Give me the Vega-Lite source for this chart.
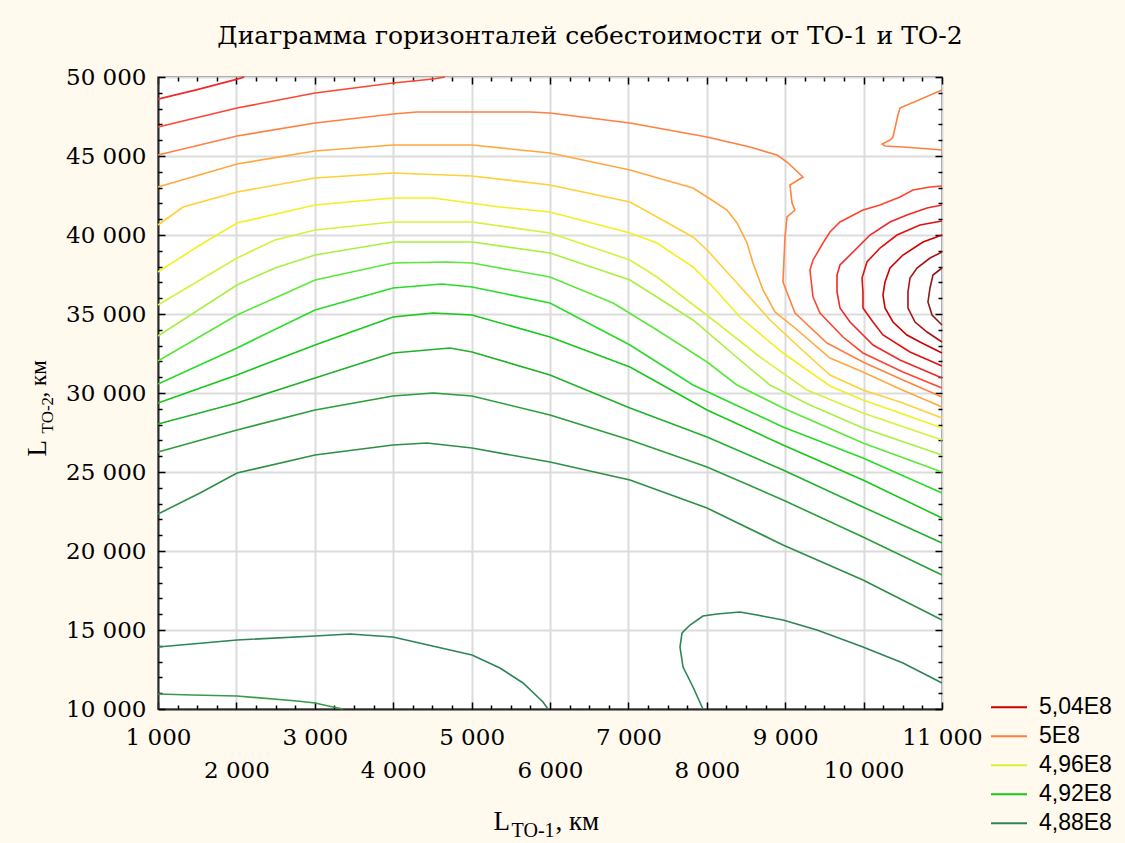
{
  "$schema": "https://vega.github.io/schema/vega-lite/v6.json",
  "width": 784,
  "height": 632,
  "autosize": {"type": "none"},
  "padding": {"left": 158, "top": 77, "right": 183, "bottom": 134},
  "background": "#FFF9EE",
  "title": {
    "text": "Диаграмма горизонталей себестоимости от ТО-1 и ТО-2",
    "font": "DejaVu Serif",
    "fontSize": 25,
    "fontWeight": "normal",
    "color": "#000000",
    "anchor": "middle",
    "dx": 40,
    "dy": 34,
    "baseline": "alphabetic",
    "offset": 31
  },
  "config": {
    "view": {"fill": "#FFFFFF", "stroke": "#555555", "strokeWidth": 1.5}
  },
  "data": {
    "values": [
      {"l":502,"s":1,"i":0,"x":1000,"y":48600},{"l":502,"s":1,"i":1,"x":1500,"y":49200},{"l":502,"s":1,"i":2,"x":2000,"y":49850},{"l":502,"s":1,"i":3,"x":2100,"y":50000},
      {"l":501,"s":2,"i":0,"x":1000,"y":46835},{"l":501,"s":2,"i":1,"x":2008,"y":48038},{"l":501,"s":2,"i":2,"x":3003,"y":48987},{"l":501,"s":2,"i":3,"x":3997,"y":49620},{"l":501,"s":2,"i":4,"x":4508,"y":49873},{"l":501,"s":2,"i":5,"x":4660,"y":50000},
      {"l":500,"s":3,"i":0,"x":1000,"y":45063},{"l":500,"s":3,"i":1,"x":2008,"y":46266},{"l":500,"s":3,"i":2,"x":3003,"y":47089},{"l":500,"s":3,"i":3,"x":3997,"y":47658},{"l":500,"s":3,"i":4,"x":4304,"y":47785},{"l":500,"s":3,"i":5,"x":5745,"y":47785},{"l":500,"s":3,"i":6,"x":6000,"y":47722},{"l":500,"s":3,"i":7,"x":7020,"y":47089},{"l":500,"s":3,"i":8,"x":8003,"y":46203},{"l":500,"s":3,"i":9,"x":8551,"y":45570},{"l":500,"s":3,"i":10,"x":8895,"y":45063},{"l":500,"s":3,"i":11,"x":9023,"y":44620},{"l":500,"s":3,"i":12,"x":9227,"y":43671},{"l":500,"s":3,"i":13,"x":9061,"y":43165},{"l":500,"s":3,"i":14,"x":9087,"y":42025},{"l":500,"s":3,"i":15,"x":9125,"y":41582},{"l":500,"s":3,"i":16,"x":9023,"y":41139},{"l":500,"s":3,"i":17,"x":8997,"y":39873},{"l":500,"s":3,"i":18,"x":8972,"y":37025},{"l":500,"s":3,"i":19,"x":9125,"y":35063},{"l":500,"s":3,"i":20,"x":9533,"y":33165},{"l":500,"s":3,"i":21,"x":9992,"y":31962},{"l":500,"s":3,"i":22,"x":10502,"y":30823},{"l":500,"s":3,"i":23,"x":11000,"y":29747},
      {"l":500,"s":4,"i":0,"x":11000,"y":49177},{"l":500,"s":4,"i":1,"x":10464,"y":48038},{"l":500,"s":4,"i":2,"x":10438,"y":47595},{"l":500,"s":4,"i":3,"x":10375,"y":46203},{"l":500,"s":4,"i":4,"x":10337,"y":46013},{"l":500,"s":4,"i":5,"x":10235,"y":45759},{"l":500,"s":4,"i":6,"x":10273,"y":45633},{"l":500,"s":4,"i":7,"x":10502,"y":45570},{"l":500,"s":4,"i":8,"x":10847,"y":45443},{"l":500,"s":4,"i":9,"x":11000,"y":45380},
      {"l":499,"s":5,"i":0,"x":1000,"y":43038},{"l":499,"s":5,"i":1,"x":2008,"y":44494},{"l":499,"s":5,"i":2,"x":3003,"y":45317},{"l":499,"s":5,"i":3,"x":3997,"y":45696},{"l":499,"s":5,"i":4,"x":5005,"y":45696},{"l":499,"s":5,"i":5,"x":6000,"y":45190},{"l":499,"s":5,"i":6,"x":7020,"y":44114},{"l":499,"s":5,"i":7,"x":7824,"y":42975},{"l":499,"s":5,"i":8,"x":8003,"y":42405},{"l":499,"s":5,"i":9,"x":8258,"y":41582},{"l":499,"s":5,"i":10,"x":8385,"y":40760},{"l":499,"s":5,"i":11,"x":8513,"y":39494},{"l":499,"s":5,"i":12,"x":8589,"y":38228},{"l":499,"s":5,"i":13,"x":8717,"y":36519},{"l":499,"s":5,"i":14,"x":8870,"y":35127},{"l":499,"s":5,"i":15,"x":9125,"y":34114},{"l":499,"s":5,"i":16,"x":9571,"y":32215},{"l":499,"s":5,"i":17,"x":9992,"y":31329},{"l":499,"s":5,"i":18,"x":10464,"y":30253},{"l":499,"s":5,"i":19,"x":11000,"y":29114},
      {"l":498,"s":6,"i":0,"x":1000,"y":40633},{"l":498,"s":6,"i":1,"x":1319,"y":41772},{"l":498,"s":6,"i":2,"x":2008,"y":42722},{"l":498,"s":6,"i":3,"x":3003,"y":43608},{"l":498,"s":6,"i":4,"x":3997,"y":43924},{"l":498,"s":6,"i":5,"x":5005,"y":43734},{"l":498,"s":6,"i":6,"x":6000,"y":43165},{"l":498,"s":6,"i":7,"x":7020,"y":42089},{"l":498,"s":6,"i":8,"x":7824,"y":39873},{"l":498,"s":6,"i":9,"x":8003,"y":39051},{"l":498,"s":6,"i":10,"x":8385,"y":36962},{"l":498,"s":6,"i":11,"x":8806,"y":34620},{"l":498,"s":6,"i":12,"x":9189,"y":32848},{"l":498,"s":6,"i":13,"x":9571,"y":31139},{"l":498,"s":6,"i":14,"x":9992,"y":30190},{"l":498,"s":6,"i":15,"x":10464,"y":29430},{"l":498,"s":6,"i":16,"x":11000,"y":28418},
      {"l":497,"s":7,"i":0,"x":1000,"y":37658},{"l":497,"s":7,"i":1,"x":1536,"y":39367},{"l":497,"s":7,"i":2,"x":2008,"y":40760},{"l":497,"s":7,"i":3,"x":3003,"y":41899},{"l":497,"s":7,"i":4,"x":3997,"y":42342},{"l":497,"s":7,"i":5,"x":4508,"y":42342},{"l":497,"s":7,"i":6,"x":5362,"y":41772},{"l":497,"s":7,"i":7,"x":6000,"y":41456},{"l":497,"s":7,"i":8,"x":7020,"y":40127},{"l":497,"s":7,"i":9,"x":7365,"y":39494},{"l":497,"s":7,"i":10,"x":7824,"y":37975},{"l":497,"s":7,"i":11,"x":8079,"y":36709},{"l":497,"s":7,"i":12,"x":8423,"y":34810},{"l":497,"s":7,"i":13,"x":8972,"y":32532},{"l":497,"s":7,"i":14,"x":9571,"y":30443},{"l":497,"s":7,"i":15,"x":9992,"y":29557},{"l":497,"s":7,"i":16,"x":10464,"y":28734},{"l":497,"s":7,"i":17,"x":11000,"y":27785},
      {"l":496,"s":8,"i":0,"x":1000,"y":35570},{"l":496,"s":8,"i":1,"x":2008,"y":38544},{"l":496,"s":8,"i":2,"x":2492,"y":39684},{"l":496,"s":8,"i":3,"x":3003,"y":40317},{"l":496,"s":8,"i":4,"x":3997,"y":40823},{"l":496,"s":8,"i":5,"x":5005,"y":40823},{"l":496,"s":8,"i":6,"x":6000,"y":40127},{"l":496,"s":8,"i":7,"x":7020,"y":38418},{"l":496,"s":8,"i":8,"x":7365,"y":37342},{"l":496,"s":8,"i":9,"x":7697,"y":36076},{"l":496,"s":8,"i":10,"x":8130,"y":34430},{"l":496,"s":8,"i":11,"x":8679,"y":32279},{"l":496,"s":8,"i":12,"x":9278,"y":30190},{"l":496,"s":8,"i":13,"x":9992,"y":28734},{"l":496,"s":8,"i":14,"x":11000,"y":27025},
      {"l":495,"s":9,"i":0,"x":1000,"y":33608},{"l":495,"s":9,"i":1,"x":2008,"y":36836},{"l":495,"s":9,"i":2,"x":2492,"y":37911},{"l":495,"s":9,"i":3,"x":3003,"y":38734},{"l":495,"s":9,"i":4,"x":3997,"y":39557},{"l":495,"s":9,"i":5,"x":5005,"y":39557},{"l":495,"s":9,"i":6,"x":6000,"y":38861},{"l":495,"s":9,"i":7,"x":7020,"y":37152},{"l":495,"s":9,"i":8,"x":7824,"y":34620},{"l":495,"s":9,"i":9,"x":8423,"y":32089},{"l":495,"s":9,"i":10,"x":8806,"y":30506},{"l":495,"s":9,"i":11,"x":9316,"y":29241},{"l":495,"s":9,"i":12,"x":9992,"y":27785},{"l":495,"s":9,"i":13,"x":11000,"y":26076},
      {"l":494,"s":10,"i":0,"x":1000,"y":32025},{"l":494,"s":10,"i":1,"x":2008,"y":34937},{"l":494,"s":10,"i":2,"x":3003,"y":37152},{"l":494,"s":10,"i":3,"x":3997,"y":38228},{"l":494,"s":10,"i":4,"x":4686,"y":38291},{"l":494,"s":10,"i":5,"x":5005,"y":38228},{"l":494,"s":10,"i":6,"x":6000,"y":37342},{"l":494,"s":10,"i":7,"x":6804,"y":35696},{"l":494,"s":10,"i":8,"x":7365,"y":33988},{"l":494,"s":10,"i":9,"x":8003,"y":31962},{"l":494,"s":10,"i":10,"x":8385,"y":30506},{"l":494,"s":10,"i":11,"x":8972,"y":29051},{"l":494,"s":10,"i":12,"x":9992,"y":26836},{"l":494,"s":10,"i":13,"x":11000,"y":25000},
      {"l":493,"s":11,"i":0,"x":1000,"y":30570},{"l":493,"s":11,"i":1,"x":2008,"y":32848},{"l":493,"s":11,"i":2,"x":3003,"y":35253},{"l":493,"s":11,"i":3,"x":3997,"y":36646},{"l":493,"s":11,"i":4,"x":4622,"y":36899},{"l":493,"s":11,"i":5,"x":5005,"y":36709},{"l":493,"s":11,"i":6,"x":6000,"y":35696},{"l":493,"s":11,"i":7,"x":7020,"y":33038},{"l":493,"s":11,"i":8,"x":7824,"y":30506},{"l":493,"s":11,"i":9,"x":8972,"y":27848},{"l":493,"s":11,"i":10,"x":9992,"y":25886},{"l":493,"s":11,"i":11,"x":11000,"y":23671},
      {"l":492,"s":12,"i":0,"x":1000,"y":29367},{"l":492,"s":12,"i":1,"x":2008,"y":31139},{"l":492,"s":12,"i":2,"x":3003,"y":33038},{"l":492,"s":12,"i":3,"x":3997,"y":34810},{"l":492,"s":12,"i":4,"x":4508,"y":35063},{"l":492,"s":12,"i":5,"x":5005,"y":34937},{"l":492,"s":12,"i":6,"x":6000,"y":33544},{"l":492,"s":12,"i":7,"x":7020,"y":31646},{"l":492,"s":12,"i":8,"x":8003,"y":28924},{"l":492,"s":12,"i":9,"x":8972,"y":26709},{"l":492,"s":12,"i":10,"x":9992,"y":24494},{"l":492,"s":12,"i":11,"x":11000,"y":22089},
      {"l":491,"s":13,"i":0,"x":1000,"y":28038},{"l":491,"s":13,"i":1,"x":2008,"y":29367},{"l":491,"s":13,"i":2,"x":3003,"y":30949},{"l":491,"s":13,"i":3,"x":3997,"y":32532},{"l":491,"s":13,"i":4,"x":4724,"y":32848},{"l":491,"s":13,"i":5,"x":5005,"y":32595},{"l":491,"s":13,"i":6,"x":6000,"y":31139},{"l":491,"s":13,"i":7,"x":7020,"y":29051},{"l":491,"s":13,"i":8,"x":8003,"y":27215},{"l":491,"s":13,"i":9,"x":8972,"y":25127},{"l":491,"s":13,"i":10,"x":9992,"y":22785},{"l":491,"s":13,"i":11,"x":11000,"y":20506},
      {"l":490,"s":14,"i":0,"x":1000,"y":26266},{"l":490,"s":14,"i":1,"x":2008,"y":27658},{"l":490,"s":14,"i":2,"x":3003,"y":28924},{"l":490,"s":14,"i":3,"x":3997,"y":29810},{"l":490,"s":14,"i":4,"x":4508,"y":30000},{"l":490,"s":14,"i":5,"x":5005,"y":29810},{"l":490,"s":14,"i":6,"x":6000,"y":28608},{"l":490,"s":14,"i":7,"x":7020,"y":27025},{"l":490,"s":14,"i":8,"x":8003,"y":25317},{"l":490,"s":14,"i":9,"x":8972,"y":23228},{"l":490,"s":14,"i":10,"x":9992,"y":20886},{"l":490,"s":14,"i":11,"x":11000,"y":18481},
      {"l":489,"s":15,"i":0,"x":1000,"y":22342},{"l":489,"s":15,"i":1,"x":1536,"y":23671},{"l":489,"s":15,"i":2,"x":2008,"y":24937},{"l":489,"s":15,"i":3,"x":3003,"y":26076},{"l":489,"s":15,"i":4,"x":3997,"y":26709},{"l":489,"s":15,"i":5,"x":4431,"y":26836},{"l":489,"s":15,"i":6,"x":5005,"y":26519},{"l":489,"s":15,"i":7,"x":6000,"y":25633},{"l":489,"s":15,"i":8,"x":7020,"y":24494},{"l":489,"s":15,"i":9,"x":8003,"y":22722},{"l":489,"s":15,"i":10,"x":8972,"y":20380},{"l":489,"s":15,"i":11,"x":9992,"y":18165},{"l":489,"s":15,"i":12,"x":11000,"y":15633},
      {"l":488,"s":16,"i":0,"x":1000,"y":13924},{"l":488,"s":16,"i":1,"x":2008,"y":14367},{"l":488,"s":16,"i":2,"x":3003,"y":14620},{"l":488,"s":16,"i":3,"x":3449,"y":14747},{"l":488,"s":16,"i":4,"x":3997,"y":14557},{"l":488,"s":16,"i":5,"x":5005,"y":13418},{"l":488,"s":16,"i":6,"x":5362,"y":12595},{"l":488,"s":16,"i":7,"x":5656,"y":11646},{"l":488,"s":16,"i":8,"x":5911,"y":10443},{"l":488,"s":16,"i":9,"x":5974,"y":10000},
      {"l":487,"s":17,"i":0,"x":1000,"y":10949},{"l":487,"s":17,"i":1,"x":1434,"y":10886},{"l":487,"s":17,"i":2,"x":2008,"y":10823},{"l":487,"s":17,"i":3,"x":2773,"y":10506},{"l":487,"s":17,"i":4,"x":3003,"y":10380},{"l":487,"s":17,"i":5,"x":3232,"y":10127},{"l":487,"s":17,"i":6,"x":3360,"y":10000},
      {"l":488,"s":18,"i":0,"x":7951,"y":10000},{"l":488,"s":18,"i":1,"x":7824,"y":11392},{"l":488,"s":18,"i":2,"x":7697,"y":12658},{"l":488,"s":18,"i":3,"x":7658,"y":13924},{"l":488,"s":18,"i":4,"x":7684,"y":14810},{"l":488,"s":18,"i":5,"x":7786,"y":15316},{"l":488,"s":18,"i":6,"x":7951,"y":15886},{"l":488,"s":18,"i":7,"x":8130,"y":16013},{"l":488,"s":18,"i":8,"x":8423,"y":16139},{"l":488,"s":18,"i":9,"x":8640,"y":15949},{"l":488,"s":18,"i":10,"x":8972,"y":15633},{"l":488,"s":18,"i":11,"x":9406,"y":15000},{"l":488,"s":18,"i":12,"x":9992,"y":13924},{"l":488,"s":18,"i":13,"x":10502,"y":12911},{"l":488,"s":18,"i":14,"x":11000,"y":11646},
      {"l":501,"s":19,"i":0,"x":11000,"y":43101},{"l":501,"s":19,"i":1,"x":10847,"y":43038},{"l":501,"s":19,"i":2,"x":10630,"y":42848},{"l":501,"s":19,"i":3,"x":10464,"y":42405},{"l":501,"s":19,"i":4,"x":10209,"y":41899},{"l":501,"s":19,"i":5,"x":9992,"y":41582},{"l":501,"s":19,"i":6,"x":9699,"y":40823},{"l":501,"s":19,"i":7,"x":9571,"y":40190},{"l":501,"s":19,"i":8,"x":9482,"y":39494},{"l":501,"s":19,"i":9,"x":9355,"y":38418},{"l":501,"s":19,"i":10,"x":9316,"y":37785},{"l":501,"s":19,"i":11,"x":9355,"y":36076},{"l":501,"s":19,"i":12,"x":9444,"y":35063},{"l":501,"s":19,"i":13,"x":9737,"y":33544},{"l":501,"s":19,"i":14,"x":9992,"y":32532},{"l":501,"s":19,"i":15,"x":10502,"y":31329},{"l":501,"s":19,"i":16,"x":11000,"y":30317},
      {"l":502,"s":20,"i":0,"x":11000,"y":41899},{"l":502,"s":20,"i":1,"x":10809,"y":41709},{"l":502,"s":20,"i":2,"x":10553,"y":41266},{"l":502,"s":20,"i":3,"x":10337,"y":40823},{"l":502,"s":20,"i":4,"x":10082,"y":40000},{"l":502,"s":20,"i":5,"x":9827,"y":38734},{"l":502,"s":20,"i":6,"x":9699,"y":38101},{"l":502,"s":20,"i":7,"x":9661,"y":37468},{"l":502,"s":20,"i":8,"x":9661,"y":36392},{"l":502,"s":20,"i":9,"x":9699,"y":35380},{"l":502,"s":20,"i":10,"x":9827,"y":34494},{"l":502,"s":20,"i":11,"x":9992,"y":33671},{"l":502,"s":20,"i":12,"x":10120,"y":33038},{"l":502,"s":20,"i":13,"x":10464,"y":32089},{"l":502,"s":20,"i":14,"x":11000,"y":30949},
      {"l":503,"s":21,"i":0,"x":11000,"y":40886},{"l":503,"s":21,"i":1,"x":10719,"y":40633},{"l":503,"s":21,"i":2,"x":10426,"y":40000},{"l":503,"s":21,"i":3,"x":10209,"y":39177},{"l":503,"s":21,"i":4,"x":10043,"y":38291},{"l":503,"s":21,"i":5,"x":9980,"y":37279},{"l":503,"s":21,"i":6,"x":9992,"y":36392},{"l":503,"s":21,"i":7,"x":9992,"y":35380},{"l":503,"s":21,"i":8,"x":10120,"y":34494},{"l":503,"s":21,"i":9,"x":10247,"y":33671},{"l":503,"s":21,"i":10,"x":10592,"y":32595},{"l":503,"s":21,"i":11,"x":11000,"y":31709},
      {"l":504,"s":22,"i":0,"x":11000,"y":40000},{"l":504,"s":22,"i":1,"x":10758,"y":39557},{"l":504,"s":22,"i":2,"x":10502,"y":38734},{"l":504,"s":22,"i":3,"x":10337,"y":37911},{"l":504,"s":22,"i":4,"x":10273,"y":37025},{"l":504,"s":22,"i":5,"x":10247,"y":36203},{"l":504,"s":22,"i":6,"x":10273,"y":35380},{"l":504,"s":22,"i":7,"x":10375,"y":34494},{"l":504,"s":22,"i":8,"x":10553,"y":33671},{"l":504,"s":22,"i":9,"x":10719,"y":33228},{"l":504,"s":22,"i":10,"x":11000,"y":32532},
      {"l":505,"s":23,"i":0,"x":11000,"y":38924},{"l":505,"s":23,"i":1,"x":10847,"y":38544},{"l":505,"s":23,"i":2,"x":10681,"y":37911},{"l":505,"s":23,"i":3,"x":10592,"y":37279},{"l":505,"s":23,"i":4,"x":10566,"y":36392},{"l":505,"s":23,"i":5,"x":10566,"y":35380},{"l":505,"s":23,"i":6,"x":10656,"y":34494},{"l":505,"s":23,"i":7,"x":10809,"y":33861},{"l":505,"s":23,"i":8,"x":11000,"y":33228},
      {"l":506,"s":24,"i":0,"x":11000,"y":37911},{"l":506,"s":24,"i":1,"x":10885,"y":37468},{"l":506,"s":24,"i":2,"x":10847,"y":36646},{"l":506,"s":24,"i":3,"x":10821,"y":35760},{"l":506,"s":24,"i":4,"x":10873,"y":34937},{"l":506,"s":24,"i":5,"x":11000,"y":34304}
    ]
  },
  "layer": [
    {
      "mark": {"type": "line", "strokeWidth": 1.6, "interpolate": "linear"},
      "encoding": {
        "x": {
          "field": "x", "type": "quantitative",
          "scale": {"domain": [1000, 11000], "nice": false, "zero": false},
          "axis": {
            "orient": "bottom",
            "values": [1000, 2000, 3000, 4000, 5000, 6000, 7000, 8000, 9000, 10000, 11000],
            "labelExpr": "replace(format(datum.value, ','), ',', ' ')",
            "labelFont": "DejaVu Serif", "labelFontSize": 23, "labelColor": "#000000",
            "labelBaseline": "top",
            "labelPadding": {"condition": {"test": "datum.value % 2000 == 0", "value": 50}, "value": 17},
            "labelOverlap": false, "labelFlush": false, "labelBound": false,
            "ticks": false,
            "grid": true, "gridColor": "#dcdcdc", "gridWidth": 2,
            "domain": true, "domainColor": "#2a2a2a", "domainWidth": 2,
            "title": "L", "titleFont": "Liberation Serif", "titleFontSize": 27, "titleFontWeight": "normal", "titleColor": "#000000",
            "titleAngle": 0, "titleAlign": "left", "titleBaseline": "alphabetic", "titleX": 335, "titleY": 120
          }
        },
        "y": {
          "field": "y", "type": "quantitative",
          "scale": {"domain": [10000, 50000], "nice": false, "zero": false},
          "axis": {
            "orient": "left",
            "values": [10000, 15000, 20000, 25000, 30000, 35000, 40000, 45000, 50000],
            "labelExpr": "replace(format(datum.value, ','), ',', ' ')",
            "labelFont": "DejaVu Serif", "labelFontSize": 23, "labelColor": "#000000",
            "labelPadding": 12, "labelOverlap": false, "labelFlush": false, "labelBound": false,
            "ticks": false,
            "grid": true, "gridColor": "#dcdcdc", "gridWidth": 2,
            "domain": true, "domainColor": "#2a2a2a", "domainWidth": 2,
            "title": "L", "titleFont": "Liberation Serif", "titleFontSize": 27, "titleFontWeight": "normal", "titleColor": "#000000",
            "titleAngle": -90, "titleAlign": "left", "titleBaseline": "alphabetic", "titleX": -113, "titleY": 379
          }
        },
        "color": {
          "field": "l", "type": "ordinal",
          "scale": {
            "domain": [506, 505, 504, 503, 502, 501, 500, 499, 498, 497, 496, 495, 494, 493, 492, 491, 490, 489, 488, 487],
            "range": ["#8b1a1a", "#a81414", "#cc0000", "#e01010", "#f02828", "#ff4430", "#ff8040", "#ffa840", "#ffd038", "#f2f020", "#d4f23c", "#a8f040", "#5ae83a", "#28dc28", "#18c818", "#22b02a", "#2a9e38", "#2d8f45", "#2e8455", "#3a9a48"]
          },
          "legend": {
            "orient": "none", "legendX": 832, "legendY": 616,
            "title": null,
            "values": [504, 500, 496, 492, 488],
            "labelExpr": "datum.value == 504 ? '5,04E8' : datum.value == 500 ? '5E8' : datum.value == 496 ? '4,96E8' : datum.value == 492 ? '4,92E8' : '4,88E8'",
            "symbolType": "stroke", "symbolSize": 1296, "symbolStrokeWidth": 2,
            "labelFont": "Liberation Sans", "labelFontSize": 23, "labelColor": "#000000",
            "labelOffset": 11, "rowPadding": 0, "clipHeight": 28.5
          }
        },
        "detail": {"field": "s", "type": "nominal"},
        "order": {"field": "i", "type": "quantitative"}
      }
    },
    {
      "mark": {"type": "point", "opacity": 0},
      "encoding": {
        "x": {
          "field": "x", "type": "quantitative",
          "axis": {
            "orient": "bottom",
            "values": [1000,1250,1500,1750,2000,2250,2500,2750,3000,3250,3500,3750,4000,4250,4500,4750,5000,5250,5500,5750,6000,6250,6500,6750,7000,7250,7500,7750,8000,8250,8500,8750,9000,9250,9500,9750,10000,10250,10500,10750,11000],
            "labels": false, "grid": false, "domain": false,
            "ticks": true, "tickColor": "#000000", "tickWidth": 1.5,
            "tickSize": {"condition": {"test": "datum.value % 1000 == 0", "value": -7}, "value": -4},
            "title": "ТО-1", "titleFont": "Liberation Serif", "titleFontSize": 20, "titleFontWeight": "normal", "titleColor": "#000000",
            "titleAngle": 0, "titleAlign": "left", "titleBaseline": "alphabetic", "titleX": 353, "titleY": 127
          }
        },
        "y": {
          "field": "y", "type": "quantitative",
          "axis": {
            "orient": "left",
            "values": [10000,11000,12000,13000,14000,15000,16000,17000,18000,19000,20000,21000,22000,23000,24000,25000,26000,27000,28000,29000,30000,31000,32000,33000,34000,35000,36000,37000,38000,39000,40000,41000,42000,43000,44000,45000,46000,47000,48000,49000,50000],
            "labels": false, "grid": false, "domain": false,
            "ticks": true, "tickColor": "#000000", "tickWidth": 1.5,
            "tickSize": {"condition": {"test": "datum.value % 5000 == 0", "value": -7}, "value": -4},
            "title": "ТО-2", "titleFont": "Liberation Serif", "titleFontSize": 17, "titleFontWeight": "normal", "titleColor": "#000000",
            "titleAngle": -90, "titleAlign": "left", "titleBaseline": "alphabetic", "titleX": -106, "titleY": 356
          }
        }
      }
    },
    {
      "mark": {"type": "point", "opacity": 0},
      "encoding": {
        "x": {
          "field": "x", "type": "quantitative",
          "axis": {
            "orient": "top",
            "values": [1000,1250,1500,1750,2000,2250,2500,2750,3000,3250,3500,3750,4000,4250,4500,4750,5000,5250,5500,5750,6000,6250,6500,6750,7000,7250,7500,7750,8000,8250,8500,8750,9000,9250,9500,9750,10000,10250,10500,10750,11000],
            "labels": false, "grid": false, "domain": false,
            "ticks": true, "tickColor": "#000000", "tickWidth": 1.5,
            "tickSize": {"condition": {"test": "datum.value % 1000 == 0", "value": -7}, "value": -4},
            "title": ", км", "titleFont": "Liberation Serif", "titleFontSize": 27, "titleFontWeight": "normal", "titleColor": "#000000",
            "titleAngle": 0, "titleAlign": "left", "titleBaseline": "alphabetic", "titleX": 397, "titleY": 752
          }
        },
        "y": {
          "field": "y", "type": "quantitative",
          "axis": {
            "orient": "right",
            "values": [10000,11000,12000,13000,14000,15000,16000,17000,18000,19000,20000,21000,22000,23000,24000,25000,26000,27000,28000,29000,30000,31000,32000,33000,34000,35000,36000,37000,38000,39000,40000,41000,42000,43000,44000,45000,46000,47000,48000,49000,50000],
            "labels": false, "grid": false, "domain": false,
            "ticks": true, "tickColor": "#000000", "tickWidth": 1.5,
            "tickSize": {"condition": {"test": "datum.value % 5000 == 0", "value": -7}, "value": -4},
            "title": ", км", "titleFont": "Liberation Serif", "titleFontSize": 23, "titleFontWeight": "normal", "titleColor": "#000000",
            "titleAngle": -90, "titleAlign": "left", "titleBaseline": "alphabetic", "titleX": -897, "titleY": 320
          }
        }
      }
    }
  ],
  "resolve": {"axis": {"x": "independent", "y": "independent"}}
}
